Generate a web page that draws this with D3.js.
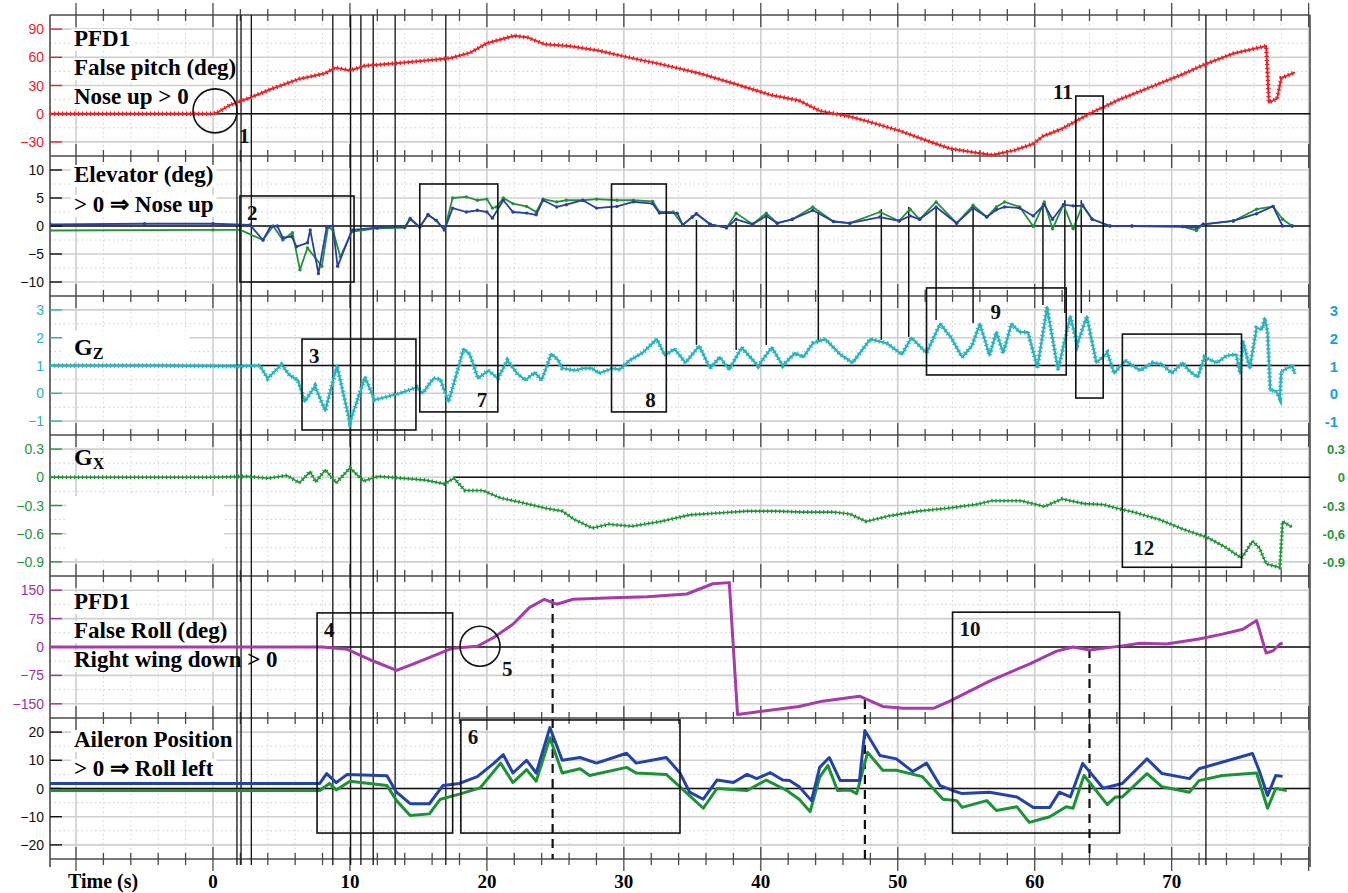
<!DOCTYPE html>
<html>
<head>
<meta charset="utf-8">
<script src="https://cdn.jsdelivr.net/npm/d3@7"></script>
<style>
body { margin: 0; background: #fff; }
svg { display: block; }
</style>
</head>
<body>
<svg id="chart" width="1348" height="893"></svg>
<script>
// ---- data: [time (s), value] ----
var pitch = [[-11.9,0],[-6,0],[0,0],[0.3,1],[1.2,9],[2.7,17],[4.2,26],[6.3,37],[8.2,43],[8.9,49],[10,46],[11.1,51],[13.6,54],[17.3,59],[18.8,65],[20,75],[22,83],[23,81],[24.2,74],[26,72],[28.2,67],[30,61],[32.6,53],[35.5,43],[38.5,30],[40.7,20],[42.8,14],[44.3,3],[46.5,-3],[48,-9],[50.1,-18],[52,-28],[53.8,-37],[55.5,-41],[56.9,-44],[58.5,-39],[59.9,-32],[60.6,-24],[62,-16],[63.1,-7],[64,0],[66,14],[68.4,28],[70.8,42],[72.5,53],[74.5,64],[76.9,72],[77.1,12],[77.7,16],[78,38],[79,44]];

var elevBlue = [[-11.9,0.3],[-5,0.4],[0,0.4],[2.7,0.2],[3.65,-2.5],[4.2,-0.1],[4.7,0],[5.1,-2.1],[5.75,-1.9],[6.1,-3.7],[6.9,-3],[7.1,-0.7],[7.7,-8.5],[8.3,-0.2],[8.75,0],[9.1,-7.2],[10.15,-0.7],[12,-0.3],[14,-0.2],[14.4,1.2],[15.1,-0.2],[15.7,2],[16.3,1],[16.9,-0.7],[17.5,3.2],[18.5,2.5],[19.3,2.8],[20,2.5],[20.4,1.4],[21.2,4.6],[21.9,2.5],[22.9,2.3],[23.6,2],[24.1,4.6],[25.1,3.4],[25.8,3.8],[27,4.6],[28,3.2],[29.5,3.5],[30.7,4.3],[32.1,4],[32.6,2.3],[33.9,2.3],[34.3,0.2],[35,1.6],[35.3,2.2],[36.3,0.3],[37.5,-0.3],[38.2,1.2],[39.4,0.3],[40.4,1.8],[41.2,0.5],[42.3,1.2],[43.8,2.8],[45.3,0.8],[46.5,0.5],[48.7,1.6],[50.1,0.9],[50.9,1.8],[51.6,1.2],[52.8,3.4],[54.3,0.5],[55.5,3.2],[56.5,1.6],[57.2,2.9],[57.8,3.4],[58.9,3.2],[59.9,1.8],[60.7,3.8],[61.3,1.2],[62.1,3.8],[62.8,3.6],[63.5,3.6],[64.2,1.2],[65.5,0],[67.1,0],[70.8,-0.1],[71.8,-0.3],[72.3,0.3],[74.5,0.9],[76.2,2.2],[77.4,3.5],[78.1,0],[78.8,0]];

var elevGreen = [[-11.9,-0.8],[0,-0.7],[2,-0.7],[3.65,-2.5],[4.4,0],[5.1,-2.5],[5.8,-1.2],[6.35,-7.8],[6.9,-3.9],[7.95,-7.2],[8.4,-0.2],[8.75,-0.7],[9.3,-5.5],[10.15,-1],[12,-0.4],[14,-0.3],[14.4,1.4],[15.1,-0.2],[15.7,2],[16.3,1],[16.9,-0.7],[17.5,5],[18.5,5.2],[19.3,4.6],[20,4.8],[20.4,3.2],[20.7,3.4],[21.2,5],[21.9,4],[22.9,3.5],[23.6,2.5],[24.1,4.8],[25.1,4.3],[25.8,4.6],[27,4.6],[28,4.8],[29.5,4.6],[30.7,4.6],[32.1,4.4],[32.6,2.5],[33.6,2.5],[34.3,0.2],[35,1.6],[35.3,2.2],[36.3,0.3],[37.5,-0.3],[38.2,2.3],[39.4,0.3],[40.4,2.3],[41.2,0.5],[42.3,1.2],[43.8,3.4],[45.3,0.8],[46.5,0.5],[48.7,2.5],[50.1,0.9],[50.9,3],[51.6,1.2],[52.8,4.3],[54.3,0.5],[55.5,3.7],[56.5,1.6],[57.2,3.4],[57.8,4.3],[58.9,3.4],[59.9,-0.1],[60.7,4.3],[61.3,-0.5],[62.1,3.8],[62.8,-0.5],[63.5,3.8],[64.2,1.2],[65.5,0],[67.1,0],[70.8,-0.1],[71.8,-0.8],[72.3,0.3],[74.5,0.9],[76.2,3],[77.4,3.5],[78.1,1.2],[78.8,0]];

var gz = [[-11.9,1],[-4,1],[0,0.98],[2,0.97],[3.4,1],[4,0.54],[5,1.03],[5.6,0.65],[6.2,0.47],[6.7,-0.3],[7.45,0.26],[8.2,-0.63],[9.05,1],[10,-1.05],[11.1,0.58],[11.8,-0.24],[13.65,0],[14.9,0.22],[15.3,0],[16.1,0.54],[16.6,0.5],[17.2,-0.3],[17.8,0.72],[18.3,1.6],[18.75,1.4],[19.35,0.54],[20.1,0.82],[20.8,0.54],[21.5,1.18],[22.2,0.72],[22.8,0.47],[23.5,0.75],[24,0.47],[24.7,1.42],[25.2,1.2],[25.5,0.9],[26.5,0.82],[27,0.9],[27.7,0.9],[28.2,0.72],[29.2,0.9],[29.7,0.85],[30.4,1.18],[31.4,1.47],[32.4,1.95],[33,1.36],[33.7,1.6],[34.5,1.1],[35.5,1.7],[36.3,0.9],[37,1.3],[37.7,0.85],[38.6,1.65],[39.8,0.98],[40.8,1.65],[41.6,1],[42.5,1.45],[43.1,1.3],[43.8,1.8],[44.7,1.95],[45.8,1.4],[46.7,1.1],[48,1.95],[49.2,1.8],[50.3,1.4],[51,2],[52.1,1.45],[53.1,2.5],[53.9,2],[54.7,1.3],[55.4,1.7],[56,2.5],[56.7,1.36],[57.2,2.2],[57.7,1.45],[58.3,2.5],[58.9,2.2],[59.5,2.2],[60.2,0.93],[60.9,3.1],[61.7,0.85],[62.6,2.77],[63.1,1.75],[63.8,2.77],[64.5,1.1],[65.3,1.46],[65.8,0.72],[66.6,1.18],[67.7,0.82],[68.6,1.1],[69.3,1.05],[70,0.72],[70.8,1.1],[71.3,0.8],[71.9,0.58],[72.4,1.3],[73.3,1.1],[74,1.35],[74.7,1.4],[75,0.72],[75.2,1.88],[75.7,0.9],[76.2,2.35],[76.6,2.3],[76.8,2.7],[77,2.2],[77.2,0.1],[77.6,0.1],[77.9,-0.18],[78,0.78],[78.8,1],[79,0.7]];

var gx = [[-11.9,0],[0,0],[2.5,0.01],[4,-0.01],[5.4,0.02],[6.3,-0.06],[7.1,0.06],[7.5,-0.05],[8.2,0.08],[9,-0.06],[10,0.1],[11,-0.04],[12.1,0.01],[13.8,-0.01],[15.5,-0.03],[16.9,-0.07],[17.6,-0.01],[18.4,-0.14],[19.7,-0.14],[21,-0.22],[22.6,-0.27],[24.3,-0.33],[25.5,-0.36],[26.4,-0.45],[27.7,-0.54],[28.9,-0.5],[30.6,-0.52],[32.7,-0.47],[34.8,-0.4],[36.9,-0.38],[39,-0.36],[41,-0.36],[43.1,-0.37],[45.3,-0.37],[46.5,-0.39],[47.7,-0.47],[49.4,-0.41],[51.5,-0.36],[53.6,-0.33],[55.7,-0.29],[56.9,-0.25],[59,-0.25],[60.7,-0.31],[62,-0.23],[63.6,-0.28],[65,-0.29],[66,-0.33],[67.2,-0.37],[69.1,-0.45],[70.8,-0.55],[72.6,-0.64],[74,-0.75],[75.1,-0.86],[75.9,-0.68],[76.4,-0.75],[76.9,-0.92],[77.9,-0.96],[78.1,-0.47],[78.8,-0.53]];

var roll = [[-11.9,0],[0,0],[8,0],[9.8,-6],[11.7,-37],[13.4,-62],[14.6,-45],[17.5,-3],[19.3,2],[20.5,25],[21.9,60],[23.1,104],[24.2,126],[25.1,113],[26.3,126],[29.2,130],[31.7,133],[34.6,140],[36.5,167],[37.7,170],[38.3,-178],[42.8,-157],[44.5,-143],[47.2,-130],[48.9,-157],[50.4,-162],[52.6,-162],[53.8,-143],[56.7,-90],[59.6,-45],[61.6,-11],[62.8,0],[64,-8],[66.4,3],[67.7,10],[69.6,8],[72,21],[73.7,34],[75.2,47],[76.2,70],[76.9,-16],[77.4,-10],[77.9,8],[78.1,10]];

var ailBlue = [[-11.9,1.8],[7.8,1.8],[8.3,5.3],[9,2.1],[9.8,5],[12.7,4.5],[13.4,-1.3],[14.4,-5.4],[15.8,-5.4],[16.8,1.1],[18,1.8],[19.3,4.2],[20.5,8.9],[21.2,12],[21.9,5.5],[22.9,10],[23.6,5.5],[24.6,21.6],[25.5,10],[26.8,11],[28,9],[30.2,12.5],[30.9,9],[33.1,11],[34.1,5.5],[34.8,-1.3],[35.8,-3.8],[36.8,3],[38,2.1],[39,5],[39.7,3.5],[40.7,5.6],[41.6,3],[42.1,2.8],[42.8,0.6],[43.7,-4.3],[44.3,7.5],[45,11],[45.8,2.8],[47.2,2.8],[47.6,20.6],[48.7,11.7],[49.9,10.5],[51.1,6],[52.1,9],[53.1,1],[54,-0.7],[54.7,-1.8],[56.7,-1.3],[58.7,-3],[59.9,-6.7],[61.1,-6.7],[61.8,-1.3],[62.6,-3],[63.5,8.9],[65,0.1],[66.4,1.8],[68.2,10.5],[69.3,5.3],[71.3,3.5],[72,7],[75.9,12.4],[76.4,6.2],[77,-2.5],[77.6,4.6],[78.1,4.3]];

var ailGreen = [[-11.9,-0.7],[7.8,-0.7],[8.5,1.8],[9,-0.5],[10,2.6],[12.7,1.1],[13.4,-4.3],[14.4,-9.6],[15.8,-9],[16.6,-3.8],[18,-2],[19.5,0.2],[21,9],[21.9,2.1],[22.9,6.7],[23.6,2.6],[24.6,18],[25.5,5.5],[26.8,7],[27.5,4.6],[30.2,7.5],[30.9,5.5],[33.1,5],[34.1,0.6],[35.8,-7],[36.8,0],[39,-0.7],[40.4,3],[41.9,-0.7],[42.8,-3.8],[43.6,-8.2],[44.3,4],[44.9,8.2],[45.6,-0.7],[46.5,-0.5],[47,-1.8],[47.8,12.8],[48.9,6.5],[49.9,6.5],[51.8,4.2],[53.3,-3.8],[54.3,-4.3],[54.7,-6.7],[56.5,-4.3],[57.2,-7.8],[58.7,-6.5],[59.6,-12],[61.1,-10],[62.3,-6.5],[62.8,-7],[63.6,4.6],[65.3,-5.7],[65.9,-3],[66.4,-3],[68.2,5.3],[69.3,0.6],[71.3,-1.3],[72,2.8],[73.7,4.6],[76.2,5.5],[77,-7],[77.6,0],[78.4,-0.7]];

// tick labels
var timeTicks = [0, 10, 20, 30, 40, 50, 60, 70];
var pitchTicks = [90, 60, 30, 0, -30];
var elevTicks = [10, 5, 0, -5, -10];
var gzTicks = [3, 2, 1, 0, -1];
var gxTicks = [0.3, 0, -0.3, -0.6, -0.9];
var gxRightLabels = ["0.3", "0", "-0.3", "-0,6", "-0.9"];
var rollTicks = [150, 75, 0, -75, -150];
var ailTicks = [20, 10, 0, -10, -20];

// annotations (time, panel values)
var markerLines = [1.75, 2.05, 2.8, 8.75, 10.05, 10.8, 11.7, 13.3, 17.0, 72.5];
var connectors = [[35.3,1.07,1.74],[38.2,0.71,1.56],[40.4,1.6,1.74],[44.2,2.5,1.85],[48.8,3.0,1.92],[50.8,3.4,2.03],[52.8,3.2,2.64],[55.5,3.2,2.53],[60.6,4.1,3.18],[62.2,4.6,2.89],[63.4,4.6,2.89]];
var dashed = [[24.8,127],[47.6,-140],[64.0,-5]];
var boxes = [
  {n:"2", t:[1.97,10.3], top:["elev",5.36], bot:["elev",-10], lab:"tl"},
  {n:"3", t:[6.5,14.82], top:["gz",1.95], bot:["gz",-1.32], lab:"tl"},
  {n:"4", t:[7.6,17.5], top:["roll",90], bot:["ail",-15.8], lab:"tl"},
  {n:"6", t:[18.1,34.1], top:["ail",24.3], bot:["ail",-15.8], lab:"tl"},
  {n:"7", t:[15.1,20.8], top:["elev",7.5], bot:["gz",-0.67], lab:"br"},
  {n:"8", t:[29.1,33.1], top:["elev",7.5], bot:["gz",-0.67], lab:"br"},
  {n:"9", t:[52.1,62.3], top:["gz",3.79], bot:["gz",0.66], lab:"tc"},
  {n:"10", t:[54.0,66.2], top:["roll",92], bot:["ail",-15.8], lab:"tl"},
  {n:"11", t:[63.0,65.0], top:["pitch",18.8], bot:["gz",-0.17], lab:"out"},
  {n:"12", t:[66.4,75.1], top:["gz",2.13], bot:["gx",-0.957], lab:"bl"}
];
var circles = [
  {n:"1", t:0.15, p:["pitch",3], r:22},
  {n:"5", t:19.5, p:["roll",2], r:20}
];

// ---- layout ----
var svg = d3.select("#chart");
var L = 50, R = 1310;
var bounds = [15, 156, 296, 435, 576, 718, 859];
var x = d3.scaleLinear().domain([-11.9, 80.1]).range([L, R]);

var panels = [
  {key:"pitch", domain:[-45,105], ticks:pitchTicks, step:30, color:"#e8242b"},
  {key:"elev", domain:[-12.5,12.5], ticks:elevTicks, step:5, color:"#111"},
  {key:"gz", domain:[-1.5,3.5], ticks:gzTicks, step:1, color:"#2ab3bf"},
  {key:"gx", domain:[-1.05,0.45], ticks:gxTicks, step:0.3, color:"#24973a"},
  {key:"roll", domain:[-187.5,187.5], ticks:rollTicks, step:75, color:"#a3309e"},
  {key:"ail", domain:[-25,25], ticks:ailTicks, step:10, color:"#111"}
];
var y = {};
panels.forEach(function(p, i) {
  p.y = d3.scaleLinear().domain(p.domain).range([bounds[i+1], bounds[i]]);
  y[p.key] = p.y;
});

var serif = "'Liberation Serif','Times New Roman',serif";
var sans = "'Liberation Sans',Arial,sans-serif";

// ---- grid ----
var grid = svg.append("g");
var evens = d3.range(-10, 81, 2);
evens.forEach(function(t) {
  var major = t % 10 === 0;
  grid.append("line")
    .attr("x1", x(t)).attr("x2", x(t))
    .attr("y1", bounds[0]).attr("y2", bounds[6])
    .attr("stroke", major ? "#cfcfcf" : "#d4d4d4")
    .attr("stroke-width", major ? 1.6 : 1)
    .attr("stroke-dasharray", major ? null : "1.5,3");
});
panels.forEach(function(p) {
  p.ticks.forEach(function(v) {
    grid.append("line")
      .attr("x1", L).attr("x2", R)
      .attr("y1", p.y(v)).attr("y2", p.y(v))
      .attr("stroke", "#cfcfcf").attr("stroke-width", 1.6);
  });
  var lo = d3.min(p.ticks), hi = d3.max(p.ticks);
  for (var v = lo - p.step / 2; v <= hi + p.step / 2 + 1e-9; v += p.step) {
    var yy = p.y(v);
    if (yy <= p.y.range()[1] + 2 || yy >= p.y.range()[0] - 2) continue;
    grid.append("line")
      .attr("x1", L).attr("x2", R)
      .attr("y1", yy).attr("y2", yy)
      .attr("stroke", "#cccccc").attr("stroke-width", 1)
      .attr("stroke-dasharray", "1.5,3");
  }
});

// white patches that hide the grid in the original
var patches = [
  {k:"gz", t:[-11, -1.7], v:[2.25, 1.15]},
  {k:"gx", t:[-10.7, 0.8], v:[-0.2, -0.86]}
];
patches.forEach(function(w) {
  svg.append("rect")
    .attr("x", x(w.t[0])).attr("width", x(w.t[1]) - x(w.t[0]))
    .attr("y", y[w.k](w.v[0])).attr("height", y[w.k](w.v[1]) - y[w.k](w.v[0]))
    .attr("fill", "#fff");
});

// ---- panel frames and ticks ----
var frame = svg.append("g").attr("stroke", "#4a4a4a");
bounds.forEach(function(b) {
  frame.append("line").attr("x1", L).attr("x2", R).attr("y1", b).attr("y2", b).attr("stroke-width", 1.6);
  evens.forEach(function(t) {
    var len = t % 10 === 0 ? 12 : 6;
    frame.append("line").attr("x1", x(t)).attr("x2", x(t))
      .attr("y1", b - len).attr("y2", b + len).attr("stroke-width", 1.3);
  });
});
frame.append("line").attr("x1", L).attr("x2", L).attr("y1", bounds[0]).attr("y2", bounds[6] + 8).attr("stroke-width", 1.6);
frame.append("line").attr("x1", R).attr("x2", R).attr("y1", bounds[0]).attr("y2", bounds[6] + 8).attr("stroke-width", 1.6);

// left axis labels and colored ticks
panels.forEach(function(p) {
  p.ticks.forEach(function(v) {
    svg.append("line").attr("x1", L).attr("x2", L + 12)
      .attr("y1", p.y(v)).attr("y2", p.y(v))
      .attr("stroke", p.color).attr("stroke-width", 1.4);
    svg.append("text").attr("x", 44).attr("y", p.y(v) + 5)
      .attr("text-anchor", "end")
      .style("font-family", sans).style("font-size", "14px")
      .attr("fill", p.color)
      .text(d3.format("")(v));
  });
});

// right axis labels
gzTicks.forEach(function(v) {
  svg.append("text").attr("x", 1338).attr("y", y.gz(v) + 6)
    .attr("text-anchor", "end").attr("fill", "#1a9fdc")
    .style("font-family", sans).style("font-size", "15px").style("font-weight", "bold")
    .text(v);
});
gxTicks.forEach(function(v, i) {
  svg.append("text").attr("x", 1345).attr("y", y.gx(v) + 5)
    .attr("text-anchor", "end").attr("fill", "#24973a")
    .style("font-family", sans).style("font-size", "13px").style("font-weight", "bold")
    .text(gxRightLabels[i]);
});

// bottom time labels
timeTicks.forEach(function(t) {
  svg.append("text").attr("x", x(t)).attr("y", 888)
    .attr("text-anchor", "middle")
    .style("font-family", serif).style("font-size", "19px").style("font-weight", "bold")
    .text(t);
});
svg.append("text").attr("x", 68).attr("y", 888)
  .style("font-family", serif).style("font-size", "20px").style("font-weight", "bold")
  .text("Time (s)");

// ---- panel titles (with white backgrounds) ----
var titles = [
  {t:"PFD1", y:46}, {t:"False pitch (deg)", y:75}, {t:"Nose up > 0", y:104},
  {t:"Elevator (deg)", y:182}, {t:"> 0 \u21d2 Nose up", y:212},
  {t:"PFD1", y:609}, {t:"False Roll (deg)", y:638}, {t:"Right wing down > 0", y:667},
  {t:"Aileron Position", y:747}, {t:"> 0 \u21d2 Roll left", y:776}
];
var titleG = svg.append("g");
titles.forEach(function(d) {
  var bg = titleG.append("rect").attr("fill", "#fff");
  var tx = titleG.append("text").attr("x", 74).attr("y", d.y)
    .style("font-family", serif).style("font-size", "23px").style("font-weight", "bold")
    .text(d.t);
  var bb = tx.node().getBBox();
  bg.attr("x", bb.x - 3).attr("y", d.y - 17).attr("width", bb.width + 6).attr("height", 22);
});
[["Z", 355], ["X", 465]].forEach(function(s) {
  var tx = titleG.append("text").attr("x", 74).attr("y", s[1])
    .style("font-family", serif).style("font-weight", "bold");
  tx.append("tspan").style("font-size", "24px").text("G");
  tx.append("tspan").attr("dy", 4).style("font-size", "16px").text(s[0]);
});

// ---- zero lines ----
var zeros = [["pitch",0,-11.9],["elev",0,-11.9],["gz",1,-11.9],["gx",0,17.6],["roll",0,-11.9],["ail",0,-11.9]];
zeros.forEach(function(z) {
  svg.append("line").attr("x1", x(z[2])).attr("x2", R)
    .attr("y1", y[z[0]](z[1])).attr("y2", y[z[0]](z[1]))
    .attr("stroke", "#111").attr("stroke-width", 1.6);
});

// ---- annotation lines ----
var ann = svg.append("g").attr("stroke", "#111").attr("fill", "none");
markerLines.forEach(function(t) {
  ann.append("line").attr("x1", x(t)).attr("x2", x(t))
    .attr("y1", bounds[0]).attr("y2", bounds[6] + 6).attr("stroke-width", 1.3);
});
connectors.forEach(function(c) {
  ann.append("line").attr("x1", x(c[0])).attr("x2", x(c[0]))
    .attr("y1", y.elev(c[1])).attr("y2", y.gz(c[2])).attr("stroke-width", 1.5);
});
dashed.forEach(function(d) {
  ann.append("line").attr("x1", x(d[0])).attr("x2", x(d[0]))
    .attr("y1", y.roll(d[1])).attr("y2", bounds[6])
    .attr("stroke-width", 2.2).attr("stroke-dasharray", "9,6");
});

// ---- data ----
svg.append("clipPath").attr("id", "plotclip")
  .append("rect").attr("x", L).attr("y", bounds[0]).attr("width", R - L).attr("height", bounds[6] - bounds[0]);
var dataG = svg.append("g").attr("clip-path", "url(#plotclip)");

function draw(series, key, color, width, beads) {
  var line = d3.line().x(function(d) { return x(d[0]); }).y(function(d) { return y[key](d[1]); });
  dataG.append("path").datum(series).attr("d", line)
    .attr("fill", "none").attr("stroke", color)
    .attr("stroke-width", width).attr("stroke-linejoin", "round");
  if (beads) {
    dataG.append("path").datum(series).attr("d", line)
      .attr("fill", "none").attr("stroke", color)
      .attr("stroke-width", width + 2.4).attr("stroke-dasharray", "1.2,2.8");
  }
}
function dots(series, key, color) {
  dataG.append("g").selectAll("circle").data(series).enter().append("circle")
    .attr("cx", function(d) { return x(d[0]); })
    .attr("cy", function(d) { return y[key](d[1]); })
    .attr("r", 1.7).attr("fill", color);
}

draw(pitch, "pitch", "#ec2227", 2, true);
draw(elevGreen, "elev", "#22923a", 1.8, false);
dots(elevGreen, "elev", "#22923a");
draw(elevBlue, "elev", "#2b3fa3", 1.8, false);
dots(elevBlue, "elev", "#2b3fa3");
draw(gz, "gz", "#2ab3bf", 2.2, true);
draw(gx, "gx", "#1f9435", 1.6, true);
draw(roll, "roll", "#a53ca7", 3, false);
draw(ailGreen, "ail", "#1c9236", 3, false);
draw(ailBlue, "ail", "#2443a8", 3, false);

// ---- boxes, circles, numbers ----
var numStyle = function(sel) {
  return sel.style("font-family", serif).style("font-size", "21px").style("font-weight", "bold").attr("fill", "#111");
};
boxes.forEach(function(b) {
  var x0 = x(b.t[0]), x1 = x(b.t[1]);
  var y0 = y[b.top[0]](b.top[1]), y1 = y[b.bot[0]](b.bot[1]);
  svg.append("rect").attr("x", x0).attr("y", y0).attr("width", x1 - x0).attr("height", y1 - y0)
    .attr("fill", "none").attr("stroke", "#111").attr("stroke-width", 1.6);
  var lx, ly, anchor = "start";
  if (b.lab === "tl") { lx = x0 + 7; ly = y0 + 24; }
  else if (b.lab === "br") { lx = x1 - 21; ly = y1 - 5; }
  else if (b.lab === "tc") { lx = x0 + 64; ly = y0 + 31; }
  else if (b.lab === "bl") { lx = x0 + 11; ly = y1 - 12; }
  else { lx = x0 - 3; ly = y0 + 3; anchor = "end"; }
  numStyle(svg.append("text").attr("x", lx).attr("y", ly).attr("text-anchor", anchor).text(b.n));
});
circles.forEach(function(c) {
  var cx = x(c.t), cy = y[c.p[0]](c.p[1]);
  svg.append("circle").attr("cx", cx).attr("cy", cy).attr("r", c.r)
    .attr("fill", "none").attr("stroke", "#111").attr("stroke-width", 1.6);
  numStyle(svg.append("text").attr("x", cx + c.r + 2).attr("y", cy + c.r + 10).text(c.n));
});
</script>
</body>
</html>
